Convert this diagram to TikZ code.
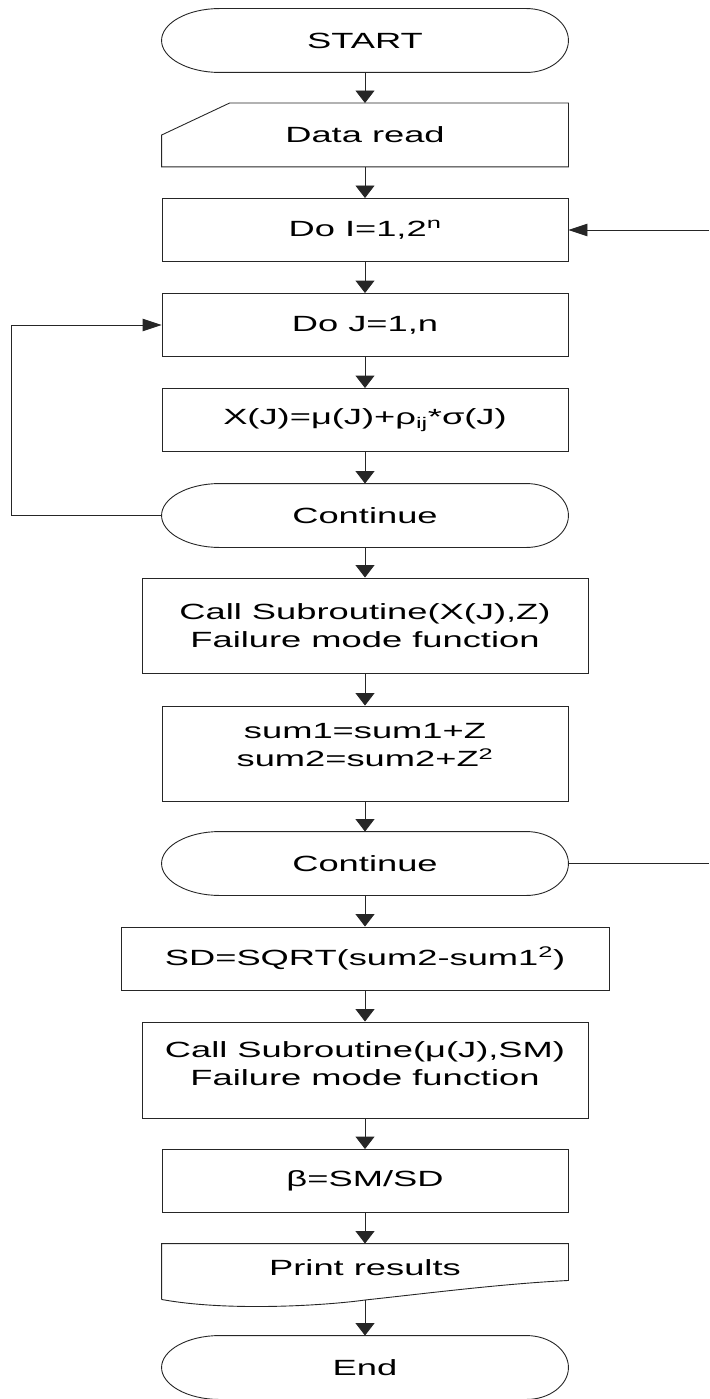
\documentclass[tikz,border=0pt]{standalone}
\usepackage{fontspec}
\setmainfont{Liberation Sans}[FakeStretch=1.65]
\usetikzlibrary{arrows.meta,calc}
\newcommand\termoutline[1]{%
  \draw[line] ([xshift=58pt]#1.north west) -- ([xshift=-42pt]#1.north east)
    .. controls +(23.2pt,0pt) and +(0pt,17.4pt) .. (#1.east)
    .. controls +(0pt,-17.4pt) and +(23.2pt,0pt) .. ([xshift=-42pt]#1.south east)
    -- ([xshift=58pt]#1.south west)
    .. controls +(-32pt,0pt) and +(0pt,-17.4pt) .. (#1.west)
    .. controls +(0pt,17.4pt) and +(-32pt,0pt) .. cycle;}
\begin{document}
\begin{tikzpicture}[x=1pt,y=-1pt,
  line/.style={draw=black!85, line width=0.9pt},
  txt/.style={inner sep=0pt, font=\fontsize{22}{28}\selectfont, align=center},
  box/.style={txt, line, minimum width=406pt, minimum height=63pt},
  ghost/.style={box, draw=none},
  varrow/.style={line, -{Triangle[length=12.5pt,width=19pt]}},
  harrow/.style={line, -{Triangle[length=19pt,width=12.5pt]}},
]
\useasboundingbox (0,0) rectangle (709,1399);

% nodes
\node[ghost] (start) at (365,40.5) {START};
\node[ghost] (data) at (365,135) {Data read};
\node[box] (doi) at (365,230) {Do I=1,2\textsuperscript{n}};
\node[box] (doj) at (365,325) {Do J=1,n};
\node[box] (xj) at (365,420) {X(J)=μ(J)+ρ\textsubscript{ij}*σ(J)};
\node[ghost] (c1) at (365,515.5) {Continue};
\node[box, minimum width=446pt, minimum height=95pt] (call1) at (365,625.5)
  {Call Subroutine(X(J),Z)\\Failure mode function};
\node[box, minimum height=95pt] (sum) at (365,753.5) {};
\node[txt] (sumt) at ([yshift=8pt]sum.center) {sum1=sum1+Z\\sum2=sum2+Z\textsuperscript{2}};
\node[ghost] (c2) at (365,863.5) {Continue};
\node[box, minimum width=488pt] (sd) at (365,958.5) {SD=SQRT(sum2-sum1\textsuperscript{2})};
\node[box, minimum width=446pt, minimum height=96pt] (call2) at (365,1070) {};
\node[txt] (call2t) at ([yshift=6pt]call2.center) {Call Subroutine(μ(J),SM)\\Failure mode function};
\node[box] (beta) at (365,1181) {β=SM/SD};
\node[ghost, minimum height=55pt] (print) at (365,1271.5) {};
\node[txt] (printt) at ([yshift=4pt]print.center) {Print results};
\node[ghost] (end) at (365,1367.5) {End};

% outlines of special shapes
\termoutline{start}
\termoutline{c1}
\termoutline{c2}
\termoutline{end}
\draw[line] (data.south west) -- ([yshift=-32pt]data.north west)
  -- ([xshift=68pt]data.north west) -- (data.north east) -- (data.south east) -- cycle;
\draw[line] (print.south west) -- (print.north west) -- (print.north east)
  -- ([yshift=19pt]print.south east)
  .. controls (500,1284) and (430,1293) .. (365,1300)
  .. controls (330,1305) and (230,1312) .. (print.south west);

% vertical connectors
\draw[varrow] (start.south) -- (data.north);
\draw[varrow] (data.south) -- (doi.north);
\draw[varrow] (doi.south) -- (doj.north);
\draw[varrow] (doj.south) -- (xj.north);
\draw[varrow] (xj.south) -- (c1.north);
\draw[varrow] (c1.south) -- (call1.north);
\draw[varrow] (call1.south) -- (sum.north);
\draw[varrow] (sum.south) -- (c2.north);
\draw[varrow] (c2.south) -- (sd.north);
\draw[varrow] (sd.south) -- (call2.north);
\draw[varrow] (call2.south) -- (beta.north);
\draw[varrow] (beta.south) -- (print.north);
\draw[varrow] ([yshift=-1pt]print.south) -- (end.north);

% loops
\coordinate (loopx) at (11,0);
\draw[harrow] (c1.west) -- (c1.west -| loopx) |- (doj.west);
\coordinate (rin) at (709,230);
\draw[harrow] (rin) -- (doi.east);
\coordinate (rout) at (709,863.5);
\draw[line] (c2.east) -- (rout);
\end{tikzpicture}
\end{document}
